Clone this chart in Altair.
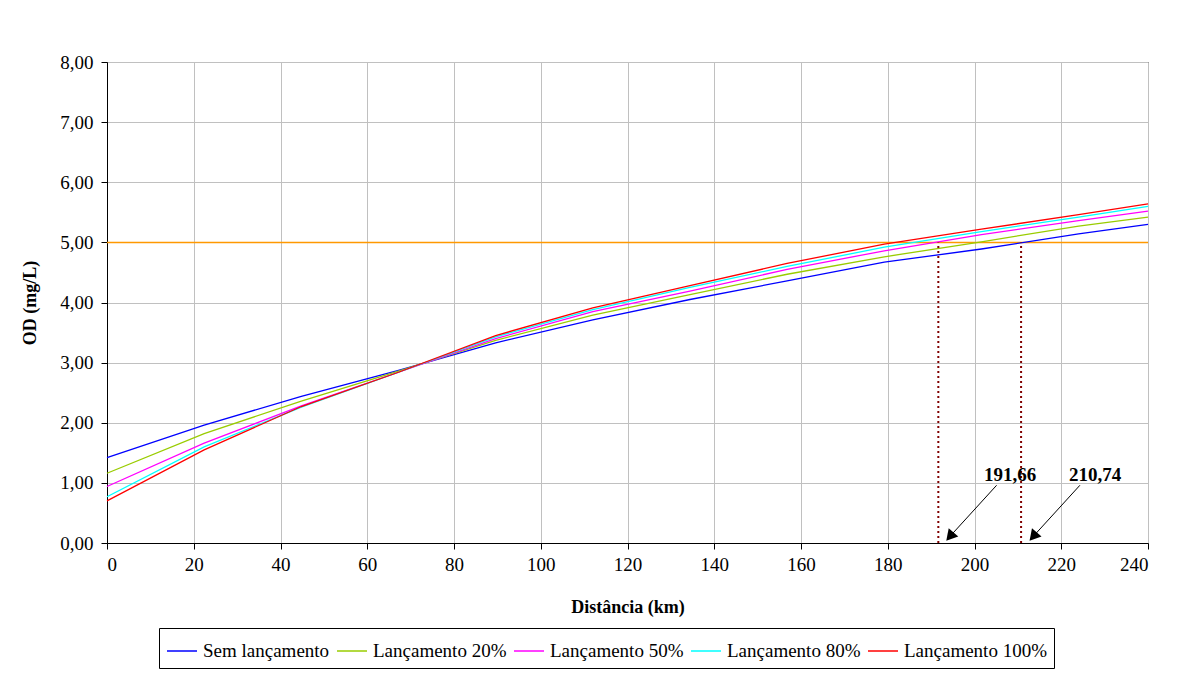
import altair as alt
import pandas as pd

# ---- data ----
distancia = [0, 22.4, 44.8, 67.2, 89.6, 112, 134.4, 156.8, 179.2, 201.6, 224, 240]
sem_lancamento = [1.42, 1.96, 2.44, 2.87, 3.33, 3.71, 4.05, 4.36, 4.67, 4.89, 5.14, 5.30]
lanc_20 = [1.16, 1.82, 2.36, 2.86, 3.37, 3.79, 4.13, 4.47, 4.76, 5.01, 5.27, 5.42]
lanc_50 = [0.94, 1.66, 2.28, 2.84, 3.40, 3.85, 4.19, 4.55, 4.86, 5.13, 5.36, 5.52]
lanc_80 = [0.77, 1.60, 2.26, 2.84, 3.43, 3.88, 4.25, 4.60, 4.92, 5.18, 5.42, 5.60]
lanc_100 = [0.70, 1.55, 2.27, 2.84, 3.45, 3.91, 4.28, 4.65, 4.97, 5.22, 5.46, 5.64]

series_names = ["Sem lançamento", "Lançamento 20%", "Lançamento 50%",
                "Lançamento 80%", "Lançamento 100%"]
series_values = [sem_lancamento, lanc_20, lanc_50, lanc_80, lanc_100]
series_colors = ["#0000FF", "#99CC00", "#FF00FF", "#00FFFF", "#FF0000"]

limite_od = [5.0]
cruzamentos = [191.66, 210.74]
rotulos = ["191,66", "210,74"]
# annotation anchors (data units)
rotulo_x = [208.2, 227.8]
rotulo_y = [1.13, 1.13]
seta_x0 = [205.1, 224.3]
seta_y0 = [0.96, 0.96]
seta_x1 = [194.6, 213.8]
seta_y1 = [0.13, 0.13]

FONT = "Liberation Serif"

rows = []
for name, vals in zip(series_names, series_values):
    for d, v in zip(distancia, vals):
        rows.append({"Distância": d, "OD": v, "Série": name})
df = pd.DataFrame(rows)

ann = pd.DataFrame({
    "cx": cruzamentos, "zero": [0.0, 0.0], "lim": [limite_od[0]] * 2,
    "tx": rotulo_x, "ty": rotulo_y, "label": rotulos,
    "ax0": seta_x0, "ay0": seta_y0, "ax1": seta_x1, "ay1": seta_y1,
})
lim_df = pd.DataFrame({"y": limite_od})

xscale = alt.Scale(domain=[0, 240], nice=False)
yscale = alt.Scale(domain=[0, 8], nice=False)

x_axis = alt.Axis(
    values=list(range(0, 241, 20)), title="Distância (km)",
    grid=True, gridColor="#C0C0C0", domainColor="black", tickColor="black",
    tickSize=6, labelFont=FONT, labelFontSize=19, labelColor="black",
    labelPadding=6, titleFont=FONT, titleFontSize=18, titleFontWeight="bold",
    titleColor="black", titlePadding=24,
)
y_axis = alt.Axis(
    values=list(range(0, 9)), title="OD (mg/L)",
    labelExpr="replace(format(datum.value, '.2f'), '.', ',')",
    grid=True, gridColor="#C0C0C0", domainColor="black", tickColor="black",
    tickSize=6, labelFont=FONT, labelFontSize=19, labelColor="black",
    labelPadding=8, titleFont=FONT, titleFontSize=18, titleFontWeight="bold",
    titleColor="black", titlePadding=20,
)

lines = alt.Chart(df).mark_line(strokeWidth=1.3).encode(
    x=alt.X("Distância:Q", scale=xscale, axis=x_axis),
    y=alt.Y("OD:Q", scale=yscale, axis=y_axis),
    color=alt.Color(
        "Série:N",
        scale=alt.Scale(domain=series_names, range=series_colors),
        sort=series_names,
        legend=alt.Legend(
            title=None, orient="none", legendX=52, legendY=566,
            direction="horizontal", symbolType="stroke", symbolSize=900,
            symbolStrokeWidth=1.5, labelFont=FONT, labelFontSize=19,
            labelColor="black", labelOffset=5, columnPadding=4,
            padding=7, strokeColor="black",
        ),
    ),
)

limit_rule = alt.Chart(lim_df).mark_rule(color="#FF9900", strokeWidth=1.5).encode(
    y=alt.Y("y:Q", scale=yscale),
)

drop_lines = alt.Chart(ann).mark_rule(
    color="#800000", strokeWidth=2, strokeDash=[2, 3]
).encode(
    x=alt.X("cx:Q", scale=xscale),
    y=alt.Y("zero:Q", scale=yscale),
    y2="lim:Q",
)

arrows = alt.Chart(ann).mark_rule(color="black", strokeWidth=1).encode(
    x=alt.X("ax0:Q", scale=xscale), y=alt.Y("ay0:Q", scale=yscale),
    x2="ax1:Q", y2="ay1:Q",
)

heads = alt.Chart(ann).mark_point(
    shape="triangle", filled=True, color="black", size=160, angle=221, opacity=1
).encode(
    x=alt.X("ax1:Q", scale=xscale), y=alt.Y("ay1:Q", scale=yscale),
)

labels = alt.Chart(ann).mark_text(
    font=FONT, fontSize=19, fontWeight="bold", color="black"
).encode(
    x=alt.X("tx:Q", scale=xscale), y=alt.Y("ty:Q", scale=yscale),
    text="label:N",
)

chart = alt.layer(limit_rule, lines, drop_lines, arrows, heads, labels).properties(
    width=1041, height=481,
    autosize=alt.AutoSizeParams(type="none"),
    padding={"left": 99, "top": 54, "right": 20, "bottom": 129},
    background="white",
).configure_view(stroke="black", strokeWidth=1)

chart.save("out.html", embed_options={"renderer": "svg", "actions": False})
